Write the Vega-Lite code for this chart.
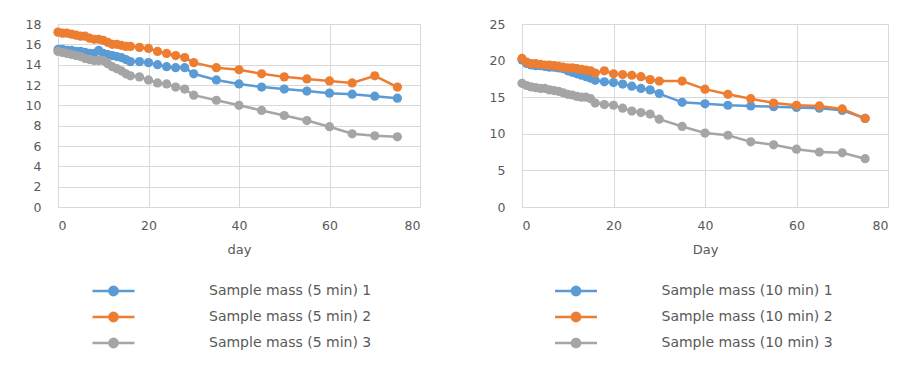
{
  "$schema": "https://vega.github.io/schema/vega-lite/v6.json",
  "padding": {"left": 24, "top": 17, "right": 0, "bottom": 5},
  "spacing": 67,
  "config": {
    "font": "DejaVu Sans",
    "view": {"stroke": "#d9d9d9", "strokeWidth": 1},
    "axis": {"gridColor": "#d9d9d9", "domainColor": "#d9d9d9", "ticks": false, "labelColor": "#595959", "labelFontSize": 12.5, "labelFont": "DejaVu Sans", "titleFont": "DejaVu Sans", "titleColor": "#595959", "titleFontSize": 13, "titleFontWeight": "normal"},
    "legend": {"orient": "none", "legendY": 257, "direction": "vertical", "title": null, "symbolType": "M-1,0L1,0M-0.2,0A0.2,0.2,0,1,1,0.2,0A0.2,0.2,0,1,1,-0.2,0", "symbolSize": 1764, "symbolStrokeWidth": 2.5, "clipHeight": 20, "rowPadding": 6, "labelFont": "DejaVu Sans", "labelFontSize": 14, "labelLimit": 400, "labelColor": "#595959", "padding": 0}
  },
  "datasets": {
    "m5": [
      {"d":0,"s":1,"m":15.5},{"d":1,"s":1,"m":15.5},{"d":2,"s":1,"m":15.4},{"d":3,"s":1,"m":15.4},{"d":4,"s":1,"m":15.3},{"d":5,"s":1,"m":15.3},{"d":6,"s":1,"m":15.2},{"d":7,"s":1,"m":15.1},{"d":8,"s":1,"m":15.1},{"d":9,"s":1,"m":15.4},{"d":10,"s":1,"m":15.1},{"d":11,"s":1,"m":15.0},{"d":12,"s":1,"m":14.9},{"d":13,"s":1,"m":14.8},{"d":14,"s":1,"m":14.7},{"d":15,"s":1,"m":14.5},{"d":16,"s":1,"m":14.3},{"d":18,"s":1,"m":14.3},{"d":20,"s":1,"m":14.2},{"d":22,"s":1,"m":14.0},{"d":24,"s":1,"m":13.8},{"d":26,"s":1,"m":13.7},{"d":28,"s":1,"m":13.7},{"d":30,"s":1,"m":13.1},{"d":35,"s":1,"m":12.5},{"d":40,"s":1,"m":12.1},{"d":45,"s":1,"m":11.8},{"d":50,"s":1,"m":11.6},{"d":55,"s":1,"m":11.4},{"d":60,"s":1,"m":11.2},{"d":65,"s":1,"m":11.1},{"d":70,"s":1,"m":10.9},{"d":75,"s":1,"m":10.7},
      {"d":0,"s":2,"m":17.2},{"d":1,"s":2,"m":17.1},{"d":2,"s":2,"m":17.1},{"d":3,"s":2,"m":17.0},{"d":4,"s":2,"m":16.9},{"d":5,"s":2,"m":16.8},{"d":6,"s":2,"m":16.8},{"d":7,"s":2,"m":16.6},{"d":8,"s":2,"m":16.5},{"d":9,"s":2,"m":16.5},{"d":10,"s":2,"m":16.4},{"d":11,"s":2,"m":16.2},{"d":12,"s":2,"m":16.0},{"d":13,"s":2,"m":16.0},{"d":14,"s":2,"m":15.9},{"d":15,"s":2,"m":15.8},{"d":16,"s":2,"m":15.8},{"d":18,"s":2,"m":15.7},{"d":20,"s":2,"m":15.6},{"d":22,"s":2,"m":15.3},{"d":24,"s":2,"m":15.1},{"d":26,"s":2,"m":14.9},{"d":28,"s":2,"m":14.7},{"d":30,"s":2,"m":14.2},{"d":35,"s":2,"m":13.7},{"d":40,"s":2,"m":13.5},{"d":45,"s":2,"m":13.1},{"d":50,"s":2,"m":12.8},{"d":55,"s":2,"m":12.6},{"d":60,"s":2,"m":12.4},{"d":65,"s":2,"m":12.2},{"d":70,"s":2,"m":12.9},{"d":75,"s":2,"m":11.8},
      {"d":0,"s":3,"m":15.3},{"d":1,"s":3,"m":15.2},{"d":2,"s":3,"m":15.1},{"d":3,"s":3,"m":15.0},{"d":4,"s":3,"m":14.9},{"d":5,"s":3,"m":14.8},{"d":6,"s":3,"m":14.6},{"d":7,"s":3,"m":14.5},{"d":8,"s":3,"m":14.4},{"d":9,"s":3,"m":14.4},{"d":10,"s":3,"m":14.4},{"d":11,"s":3,"m":14.1},{"d":12,"s":3,"m":13.8},{"d":13,"s":3,"m":13.6},{"d":14,"s":3,"m":13.4},{"d":15,"s":3,"m":13.1},{"d":16,"s":3,"m":12.9},{"d":18,"s":3,"m":12.8},{"d":20,"s":3,"m":12.5},{"d":22,"s":3,"m":12.2},{"d":24,"s":3,"m":12.1},{"d":26,"s":3,"m":11.8},{"d":28,"s":3,"m":11.6},{"d":30,"s":3,"m":11.0},{"d":35,"s":3,"m":10.5},{"d":40,"s":3,"m":10.0},{"d":45,"s":3,"m":9.5},{"d":50,"s":3,"m":9.0},{"d":55,"s":3,"m":8.5},{"d":60,"s":3,"m":7.9},{"d":65,"s":3,"m":7.2},{"d":70,"s":3,"m":7.0},{"d":75,"s":3,"m":6.9}
    ],
    "m10": [
      {"d":0,"s":1,"m":20.1},{"d":1,"s":1,"m":19.6},{"d":2,"s":1,"m":19.4},{"d":3,"s":1,"m":19.3},{"d":4,"s":1,"m":19.3},{"d":5,"s":1,"m":19.2},{"d":6,"s":1,"m":19.1},{"d":7,"s":1,"m":19.1},{"d":8,"s":1,"m":19.0},{"d":9,"s":1,"m":18.9},{"d":10,"s":1,"m":18.6},{"d":11,"s":1,"m":18.4},{"d":12,"s":1,"m":18.2},{"d":13,"s":1,"m":18.0},{"d":14,"s":1,"m":17.8},{"d":15,"s":1,"m":17.6},{"d":16,"s":1,"m":17.3},{"d":18,"s":1,"m":17.1},{"d":20,"s":1,"m":17.0},{"d":22,"s":1,"m":16.8},{"d":24,"s":1,"m":16.5},{"d":26,"s":1,"m":16.2},{"d":28,"s":1,"m":16.0},{"d":30,"s":1,"m":15.5},{"d":35,"s":1,"m":14.3},{"d":40,"s":1,"m":14.1},{"d":45,"s":1,"m":13.9},{"d":50,"s":1,"m":13.8},{"d":55,"s":1,"m":13.7},{"d":60,"s":1,"m":13.6},{"d":65,"s":1,"m":13.5},{"d":70,"s":1,"m":13.2},{"d":75,"s":1,"m":12.1},
      {"d":0,"s":2,"m":20.3},{"d":1,"s":2,"m":19.8},{"d":2,"s":2,"m":19.6},{"d":3,"s":2,"m":19.6},{"d":4,"s":2,"m":19.5},{"d":5,"s":2,"m":19.4},{"d":6,"s":2,"m":19.4},{"d":7,"s":2,"m":19.3},{"d":8,"s":2,"m":19.2},{"d":9,"s":2,"m":19.1},{"d":10,"s":2,"m":19.0},{"d":11,"s":2,"m":19.0},{"d":12,"s":2,"m":18.9},{"d":13,"s":2,"m":18.8},{"d":14,"s":2,"m":18.7},{"d":15,"s":2,"m":18.6},{"d":16,"s":2,"m":18.3},{"d":18,"s":2,"m":18.6},{"d":20,"s":2,"m":18.2},{"d":22,"s":2,"m":18.1},{"d":24,"s":2,"m":18.0},{"d":26,"s":2,"m":17.8},{"d":28,"s":2,"m":17.4},{"d":30,"s":2,"m":17.2},{"d":35,"s":2,"m":17.2},{"d":40,"s":2,"m":16.1},{"d":45,"s":2,"m":15.4},{"d":50,"s":2,"m":14.8},{"d":55,"s":2,"m":14.2},{"d":60,"s":2,"m":13.9},{"d":65,"s":2,"m":13.8},{"d":70,"s":2,"m":13.4},{"d":75,"s":2,"m":12.1},
      {"d":0,"s":3,"m":16.9},{"d":1,"s":3,"m":16.6},{"d":2,"s":3,"m":16.4},{"d":3,"s":3,"m":16.3},{"d":4,"s":3,"m":16.2},{"d":5,"s":3,"m":16.2},{"d":6,"s":3,"m":16.0},{"d":7,"s":3,"m":15.9},{"d":8,"s":3,"m":15.8},{"d":9,"s":3,"m":15.6},{"d":10,"s":3,"m":15.4},{"d":11,"s":3,"m":15.3},{"d":12,"s":3,"m":15.1},{"d":13,"s":3,"m":15.0},{"d":14,"s":3,"m":15.0},{"d":15,"s":3,"m":14.8},{"d":16,"s":3,"m":14.2},{"d":18,"s":3,"m":14.0},{"d":20,"s":3,"m":13.9},{"d":22,"s":3,"m":13.5},{"d":24,"s":3,"m":13.1},{"d":26,"s":3,"m":12.9},{"d":28,"s":3,"m":12.7},{"d":30,"s":3,"m":12.0},{"d":35,"s":3,"m":11.0},{"d":40,"s":3,"m":10.1},{"d":45,"s":3,"m":9.8},{"d":50,"s":3,"m":8.9},{"d":55,"s":3,"m":8.5},{"d":60,"s":3,"m":7.9},{"d":65,"s":3,"m":7.5},{"d":70,"s":3,"m":7.4},{"d":75,"s":3,"m":6.6}
    ]
  },
  "hconcat": [
    {
      "width": 362, "height": 183,
      "data": {"name": "m5"},
      "encoding": {
        "x": {"field": "d", "type": "quantitative", "scale": {"domain": [0, 80], "nice": false}, "axis": {"values": [0, 20, 40, 60, 80], "title": "day", "labelPadding": 12, "titlePadding": 12}},
        "y": {"field": "m", "type": "quantitative", "scale": {"domain": [0, 18], "nice": false}, "axis": {"values": [0, 2, 4, 6, 8, 10, 12, 14, 16, 18], "title": null, "labelPadding": 17}},
        "color": {"field": "s", "type": "nominal", "scale": {"domain": [1, 2, 3], "range": ["#5B9BD5", "#ED7D31", "#A5A5A5"]},
          "legend": {"labelExpr": "'Sample mass (5 min) ' + datum.label", "labelOffset": 73, "legendX": 33,
            "encode": {"symbols": {"update": {"fill": {"signal": "datum.value == 1 ? '#5B9BD5' : datum.value == 2 ? '#ED7D31' : '#A5A5A5'"}, "stroke": {"signal": "datum.value == 1 ? '#5B9BD5' : datum.value == 2 ? '#ED7D31' : '#A5A5A5'"}, "opacity": {"value": 1}}}}}}
      },
      "layer": [
        {"mark": {"type": "line", "strokeWidth": 2.5}},
        {"mark": {"type": "point", "filled": true, "size": 85, "opacity": 1}}
      ]
    },
    {
      "width": 366, "height": 183,
      "data": {"name": "m10"},
      "encoding": {
        "x": {"field": "d", "type": "quantitative", "scale": {"domain": [0, 80], "nice": false}, "axis": {"values": [0, 20, 40, 60, 80], "title": "Day", "labelPadding": 12, "titlePadding": 12}},
        "y": {"field": "m", "type": "quantitative", "scale": {"domain": [0, 25], "nice": false}, "axis": {"values": [0, 5, 10, 15, 20, 25], "title": null, "labelPadding": 17}},
        "color": {"field": "s", "type": "nominal", "scale": {"domain": [1, 2, 3], "range": ["#5B9BD5", "#ED7D31", "#A5A5A5"]},
          "legend": {"labelExpr": "'Sample mass (10 min) ' + datum.label", "labelOffset": 63, "legendX": 31.5,
            "encode": {"symbols": {"update": {"fill": {"signal": "datum.value == 1 ? '#5B9BD5' : datum.value == 2 ? '#ED7D31' : '#A5A5A5'"}, "stroke": {"signal": "datum.value == 1 ? '#5B9BD5' : datum.value == 2 ? '#ED7D31' : '#A5A5A5'"}, "opacity": {"value": 1}}}}}}
      },
      "layer": [
        {"mark": {"type": "line", "strokeWidth": 2.5}},
        {"mark": {"type": "point", "filled": true, "size": 85, "opacity": 1}}
      ]
    }
  ],
  "resolve": {"scale": {"color": "independent"}, "legend": {"color": "independent"}}
}
